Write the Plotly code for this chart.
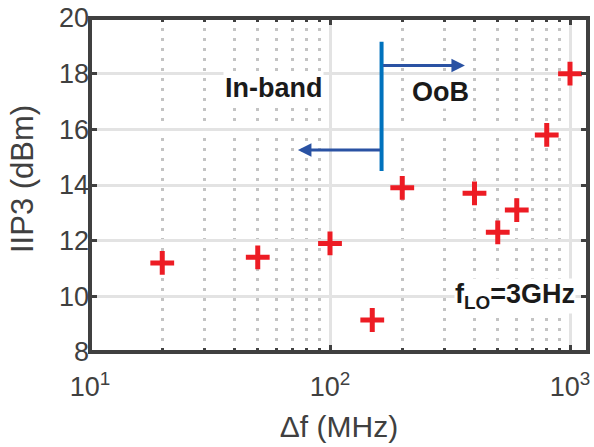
import numpy as np
import plotly.graph_objects as go

# Data
delta_f = [20, 50, 100, 150, 200, 400, 500, 600, 800, 1000]   # MHz
iip3 = [11.2, 11.4, 11.9, 9.15, 13.9, 13.7, 12.3, 13.1, 15.8, 18.0]  # dBm

y_ticks = [8, 10, 12, 14, 16, 18, 20]
x_major = [10, 100, 1000]
x_major_text = ["10<sup>1</sup>", "10<sup>2</sup>", "10<sup>3</sup>"]
x_minor = [20, 30, 40, 50, 60, 70, 80, 90, 200, 300, 400, 500, 600, 700, 800, 900]

# Band divider and arrows (data units)
divider_x = 164
divider_y = [14.5, 19.15]
oob_arrow = dict(x_from=164, x_to=365, y=18.29)
inband_arrow = dict(x_from=164, x_to=73.5, y=15.26)

X_RANGE = [1, 3.075]
Y_RANGE = [8, 20]

FONT = "Liberation Sans, Arial, sans-serif"
AX = "#404040"
RED = "#ED1C24"

fig = go.Figure()

fig.add_trace(go.Scatter(
    x=[divider_x, divider_x], y=divider_y, mode="lines",
    line=dict(color="#0072BD", width=4), showlegend=False, hoverinfo="skip"))

fig.add_trace(go.Scatter(
    x=delta_f, y=iip3, mode="markers",
    marker=dict(symbol="cross-thin", size=17, line=dict(color=RED, width=5), color=RED),
    showlegend=False))

# invisible trace to activate mirrored tick axes (top / right)
fig.add_trace(go.Scatter(x=[delta_f[0]], y=[iip3[0]], xaxis="x2", yaxis="y2",
                         mode="markers", marker=dict(opacity=0), showlegend=False,
                         hoverinfo="skip"))

for a in (oob_arrow, inband_arrow):
    fig.add_annotation(
        x=np.log10(a["x_to"]), y=a["y"], ax=np.log10(a["x_from"]), ay=a["y"],
        xref="x", yref="y", axref="x", ayref="y", text="", showarrow=True,
        arrowhead=2, arrowsize=0.9, arrowwidth=3, arrowcolor="#2A52A3")

fig.add_annotation(x=np.log10(58), y=17.5, xref="x", yref="y", text="<b>In-band</b>",
                   showarrow=False, bgcolor="white", borderpad=1,
                   font=dict(family=FONT, size=27, color="#1a1a1a"))
fig.add_annotation(x=np.log10(290), y=17.35, xref="x", yref="y", text="<b>OoB</b>",
                   showarrow=False, bgcolor="white", borderpad=1,
                   font=dict(family=FONT, size=27, color="#1a1a1a"))
fig.add_annotation(x=np.log10(1060), y=10.0, xref="x", yref="y", xanchor="right",
                   text="<b>f<sub>LO</sub>=3GHz</b>",
                   showarrow=False, bgcolor="white", borderpad=0,
                   font=dict(family=FONT, size=27, color="#1a1a1a"))

# Y axis title
fig.add_annotation(x=-0.1345, y=0.518, xref="paper", yref="paper", text="IIP3 (dBm)",
                   textangle=-90, showarrow=False, xanchor="center", yanchor="middle",
                   font=dict(family=FONT, size=31, color=AX))

# Box frame around plot area
fig.add_shape(type="rect", xref="paper", yref="paper", x0=0, x1=1, y0=0, y1=1,
              line=dict(color=AX, width=4), fillcolor="rgba(0,0,0,0)", layer="above")

minor_grid = dict(tickvals=x_minor, showgrid=True, gridcolor="#C4C4C4", gridwidth=3,
                  griddash="3px,7px", ticks="inside", ticklen=4, tickwidth=3, tickcolor=AX)

fig.update_layout(
    xaxis=dict(
        type="log", range=X_RANGE,
        tickvals=x_major, ticktext=x_major_text,
        showgrid=True, gridcolor="#E3E3E3", gridwidth=3,
        ticks="inside", ticklen=7, tickwidth=3, tickcolor=AX,
        showline=False, minor=minor_grid,
        tickfont=dict(family=FONT, size=27, color=AX), ticklabelstandoff=16,
        title=dict(text="Δf (MHz)", font=dict(family=FONT, size=30, color=AX), standoff=14),
        zeroline=False, automargin=False,
    ),
    xaxis2=dict(
        type="log", range=X_RANGE, overlaying="x", side="top",
        tickvals=x_major, showticklabels=False, showgrid=False,
        ticks="inside", ticklen=7, tickwidth=3, tickcolor=AX, showline=False,
        minor=dict(tickvals=x_minor, showgrid=False, ticks="inside", ticklen=4,
                   tickwidth=3, tickcolor=AX),
        zeroline=False, automargin=False,
    ),
    yaxis=dict(
        range=Y_RANGE, tickvals=y_ticks,
        showgrid=True, gridcolor="#E3E3E3", gridwidth=3,
        ticks="inside", ticklen=7, tickwidth=3, tickcolor=AX,
        showline=False,
        tickfont=dict(family=FONT, size=27, color=AX), ticklabelstandoff=0,
        zeroline=False, automargin=False,
    ),
    yaxis2=dict(
        range=Y_RANGE, overlaying="y", side="right", tickvals=y_ticks,
        showticklabels=False, showgrid=False,
        ticks="inside", ticklen=7, tickwidth=3, tickcolor=AX, showline=False,
        zeroline=False, automargin=False,
    ),
    width=594, height=447,
    margin=dict(l=90, r=6, t=18, b=95),
    paper_bgcolor="white", plot_bgcolor="white",
    font=dict(family=FONT),
)

fig.write_html(
    "out.html",
    config={"displayModeBar": False},
    post_script="document.body.style.margin='0';document.body.style.overflow='hidden';",
)
